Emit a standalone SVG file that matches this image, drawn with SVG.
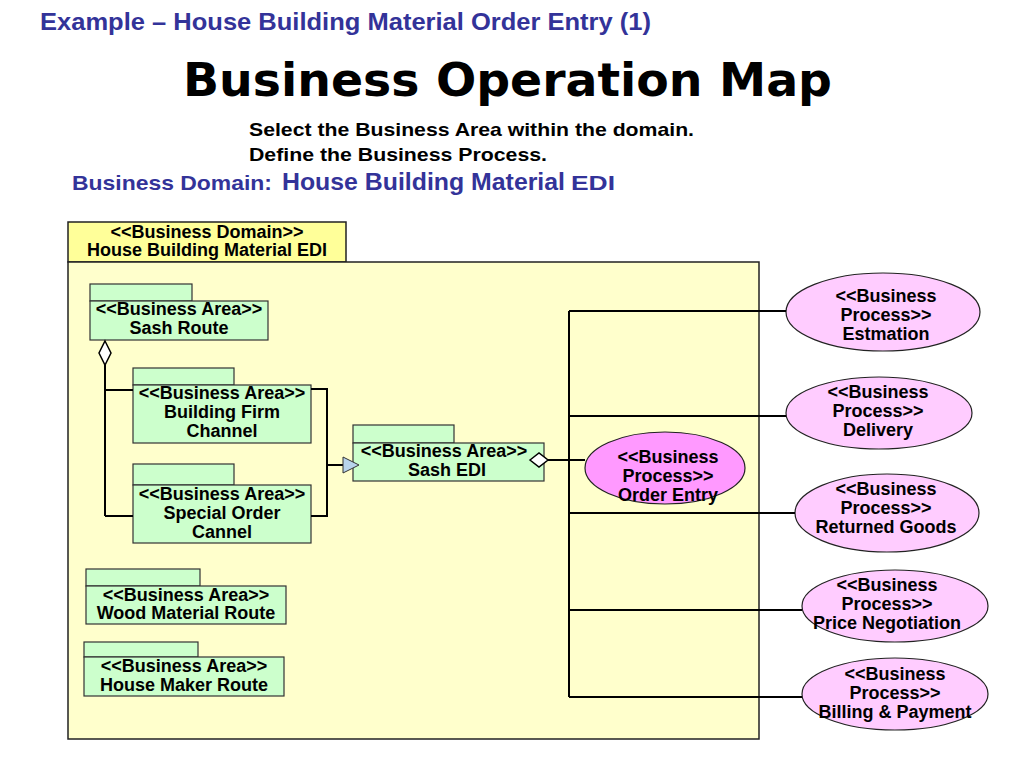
<svg xmlns="http://www.w3.org/2000/svg" width="1024" height="768" viewBox="0 0 1024 768">
<style>
.t{font-family:"Liberation Sans",Arial,sans-serif;font-weight:bold}
.lbl{font-family:"Liberation Sans",Arial,sans-serif;font-weight:bold;font-size:18px;fill:#000;text-anchor:middle}
.pk{fill:#ccffcc;stroke:#333;stroke-width:1.2}
.bp{fill:#ffccff;stroke:#222;stroke-width:1.2}
.cn{fill:none;stroke:#000;stroke-width:2}
</style>
<rect width="1024" height="768" fill="#fff"/>
<text class="t" x="40" y="30" font-size="24" fill="#333399" textLength="611" lengthAdjust="spacingAndGlyphs">Example – House Building Material Order Entry (1)</text>
<text x="183" y="96" font-family="DejaVu Sans,sans-serif" font-weight="bold" font-size="47" fill="#000" textLength="649" lengthAdjust="spacingAndGlyphs">Business Operation Map</text>
<text class="t" x="249" y="136" font-size="19" fill="#000" textLength="445" lengthAdjust="spacingAndGlyphs">Select the Business Area within the domain.</text>
<text class="t" x="249" y="161" font-size="19" fill="#000" textLength="298" lengthAdjust="spacingAndGlyphs">Define the Business Process.</text>
<text class="t" x="72" y="190" font-size="21" fill="#333399" textLength="200" lengthAdjust="spacingAndGlyphs">Business Domain:</text>
<text class="t" x="282" y="190" font-size="24" fill="#333399" textLength="283" lengthAdjust="spacingAndGlyphs">House Building Material</text>
<text class="t" x="571" y="190" font-size="20" fill="#333399" textLength="44" lengthAdjust="spacingAndGlyphs">EDI</text>

<g id="domain">
<rect x="68" y="222" width="278" height="40" fill="#ffff99" stroke="#222" stroke-width="1.5"/>
<rect x="68" y="262" width="691" height="477" fill="#ffffcc" stroke="#222" stroke-width="1.5"/>
<text class="lbl" x="207" y="238">&lt;&lt;Business Domain&gt;&gt;</text>
<text class="lbl" x="207" y="256">House Building Material EDI</text>
</g>

<g id="sash-route">
<rect class="pk" x="90" y="284" width="102" height="17"/>
<rect class="pk" x="90" y="301" width="178" height="39"/>
<text class="lbl" x="179" y="315">&lt;&lt;Business Area&gt;&gt;</text>
<text class="lbl" x="179" y="334">Sash Route</text>
</g>
<g id="building-firm">
<rect class="pk" x="133" y="368" width="101" height="17"/>
<rect class="pk" x="133" y="385" width="178" height="58"/>
<text class="lbl" x="222" y="399">&lt;&lt;Business Area&gt;&gt;</text>
<text class="lbl" x="222" y="418">Building Firm</text>
<text class="lbl" x="222" y="437">Channel</text>
</g>
<g id="special-order">
<rect class="pk" x="133" y="464" width="101" height="21"/>
<rect class="pk" x="133" y="485" width="178" height="58"/>
<text class="lbl" x="222" y="500">&lt;&lt;Business Area&gt;&gt;</text>
<text class="lbl" x="222" y="519">Special Order</text>
<text class="lbl" x="222" y="538">Cannel</text>
</g>
<g id="wood-material">
<rect class="pk" x="86" y="569" width="114" height="17"/>
<rect class="pk" x="86" y="586" width="200" height="38"/>
<text class="lbl" x="186" y="601">&lt;&lt;Business Area&gt;&gt;</text>
<text class="lbl" x="186" y="619">Wood Material Route</text>
</g>
<g id="house-maker">
<rect class="pk" x="84" y="642" width="114" height="15"/>
<rect class="pk" x="84" y="657" width="200" height="39"/>
<text class="lbl" x="184" y="672">&lt;&lt;Business Area&gt;&gt;</text>
<text class="lbl" x="184" y="691">House Maker Route</text>
</g>
<g id="sash-edi">
<rect class="pk" x="353" y="425" width="101" height="18"/>
<rect class="pk" x="353" y="443" width="191" height="38"/>
<text class="lbl" x="444" y="457">&lt;&lt;Business Area&gt;&gt;</text>
<text class="lbl" x="447" y="476">Sash EDI</text>
</g>

<g id="order-entry">
<ellipse cx="665" cy="468" rx="80" ry="36" fill="#ff99ff" stroke="#222" stroke-width="1.2"/>
<text class="lbl" x="668" y="463">&lt;&lt;Business</text>
<text class="lbl" x="668" y="482">Process&gt;&gt;</text>
<text class="lbl" x="668" y="501">Order Entry</text>
</g>
<g id="estmation">
<ellipse class="bp" cx="883" cy="312" rx="97" ry="39"/>
<text class="lbl" x="886" y="302">&lt;&lt;Business</text>
<text class="lbl" x="886" y="321">Process&gt;&gt;</text>
<text class="lbl" x="886" y="340">Estmation</text>
</g>
<g id="delivery">
<ellipse class="bp" cx="879" cy="413" rx="93" ry="36"/>
<text class="lbl" x="878" y="398">&lt;&lt;Business</text>
<text class="lbl" x="878" y="417">Process&gt;&gt;</text>
<text class="lbl" x="878" y="436">Delivery</text>
</g>
<g id="returned-goods">
<ellipse class="bp" cx="887" cy="513" rx="92" ry="39"/>
<text class="lbl" x="886" y="495">&lt;&lt;Business</text>
<text class="lbl" x="886" y="514">Process&gt;&gt;</text>
<text class="lbl" x="886" y="533">Returned Goods</text>
</g>
<g id="price-negotiation">
<ellipse class="bp" cx="895" cy="606" rx="93" ry="36"/>
<text class="lbl" x="887" y="591">&lt;&lt;Business</text>
<text class="lbl" x="887" y="610">Process&gt;&gt;</text>
<text class="lbl" x="887" y="629">Price Negotiation</text>
</g>
<g id="billing-payment">
<ellipse class="bp" cx="895" cy="694" rx="93" ry="36"/>
<text class="lbl" x="895" y="680">&lt;&lt;Business</text>
<text class="lbl" x="895" y="699">Process&gt;&gt;</text>
<text class="lbl" x="895" y="718">Billing &amp; Payment</text>
</g>

<g id="connectors">
<path class="cn" d="M105,365 V516 M105,390 H133 M105,516 H133"/>
<path class="cn" d="M311,389 H327 V516 H311 M327,465 H343"/>
<path class="cn" d="M548,460 H585"/>
<path class="cn" d="M569,311 V697 M569,311 H786 M569,416 H786 M569,513 H795 M569,610 H802 M569,697 H802"/>
<polygon points="105,341 111,353 105,365 99,353" fill="#fff" stroke="#000" stroke-width="1.5"/>
<polygon points="343,457 359,465 343,473" fill="#b8d4ec" stroke="#333" stroke-width="1"/>
<polygon points="530,460 539,453 548,460 539,467" fill="#fff" stroke="#000" stroke-width="1.5"/>
</g>
</svg>
